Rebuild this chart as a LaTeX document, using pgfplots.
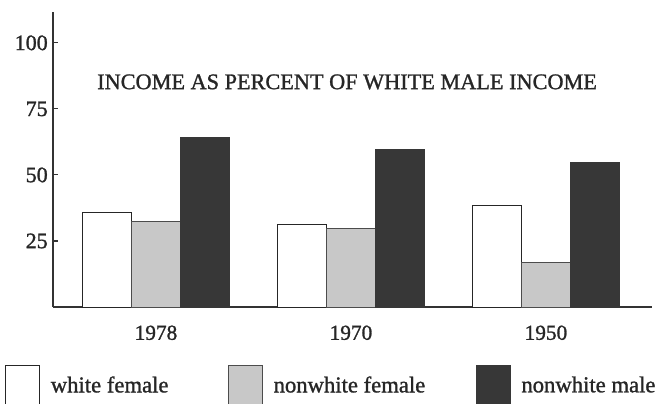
\documentclass[border=0pt]{standalone}
\usepackage{fontspec}
\setmainfont[FakeBold=1.2]{Liberation Serif}
\usepackage{pgfplots}
\pgfplotsset{compat=1.18}
\definecolor{stip}{RGB}{200,200,200}
\definecolor{darkbar}{RGB}{55,55,55}
\begin{document}
\begin{tikzpicture}
\path[use as bounding box] (0,0) rectangle (493.5pt,303pt);
\clip (0,0) rectangle (493.5pt,303pt);
\begin{axis}[
  at={(39.75pt,72.75pt)}, anchor=south west,
  scale only axis, width=449.25pt, height=221.25pt,
  axis lines*=left,
  axis line style={line width=1pt, black!80},
  xmin=-0.528, xmax=2.544,
  ymin=0, ymax=111.7,
  xtick={0,1,2}, xticklabels={1978,1970,1950},
  xtick style={draw=none},
  ytick={25,50,75,100},
  ytick style={line width=0.8pt, black!80},
  tick align=inside, major tick length=4pt,
  /pgf/number format/assume math mode=true,
  xticklabel style={font=\fontsize{16}{19}\selectfont, text=black!85, inner sep=0pt, yshift=-9.75pt},
  yticklabel style={font=\fontsize{16.5}{19}\selectfont, text=black!85, inner sep=0pt, xshift=-3.75pt},
  ybar, bar width=0.25,
  legend columns=-1,
  legend style={at={(-0.0801,-0.1966)}, anchor=north west, draw=none, inner sep=0pt, outer sep=0pt,
    nodes={inner sep=0pt}, font=\fontsize{17}{20}\selectfont, text=black!85,
    /tikz/every odd column/.append style={column sep=8.25pt},
    /tikz/every even column/.append style={column sep=0pt}},
  legend cell align=left,
  legend image code/.code={\draw[#1] (0pt,-16pt) rectangle (25.5pt,15pt);},
]
\addplot[draw=black!85, line width=0.6pt, fill=white, bar shift=-0.25] coordinates {(0,35.7) (1,31.3) (2,38.5)};
\addplot[draw=black!70, line width=0.6pt, fill=stip, bar shift=0] coordinates {(0,32.3) (1,29.7) (2,16.8)};
\addplot[draw=darkbar, line width=0.6pt, fill=darkbar, bar shift=0.25] coordinates {(0,64.1) (1,59.7) (2,54.7)};
\addlegendentry{\makebox[132.75pt][l]{white female}}
\addlegendentry{\makebox[151.5pt][l]{nonwhite female}}
\addlegendentry{nonwhite male}
\node[font=\fontsize{16.7}{20}\selectfont, text=black!85] at (axis description cs:0.491,0.763) {INCOME AS PERCENT OF WHITE MALE INCOME};
\end{axis}
\end{tikzpicture}
\end{document}
